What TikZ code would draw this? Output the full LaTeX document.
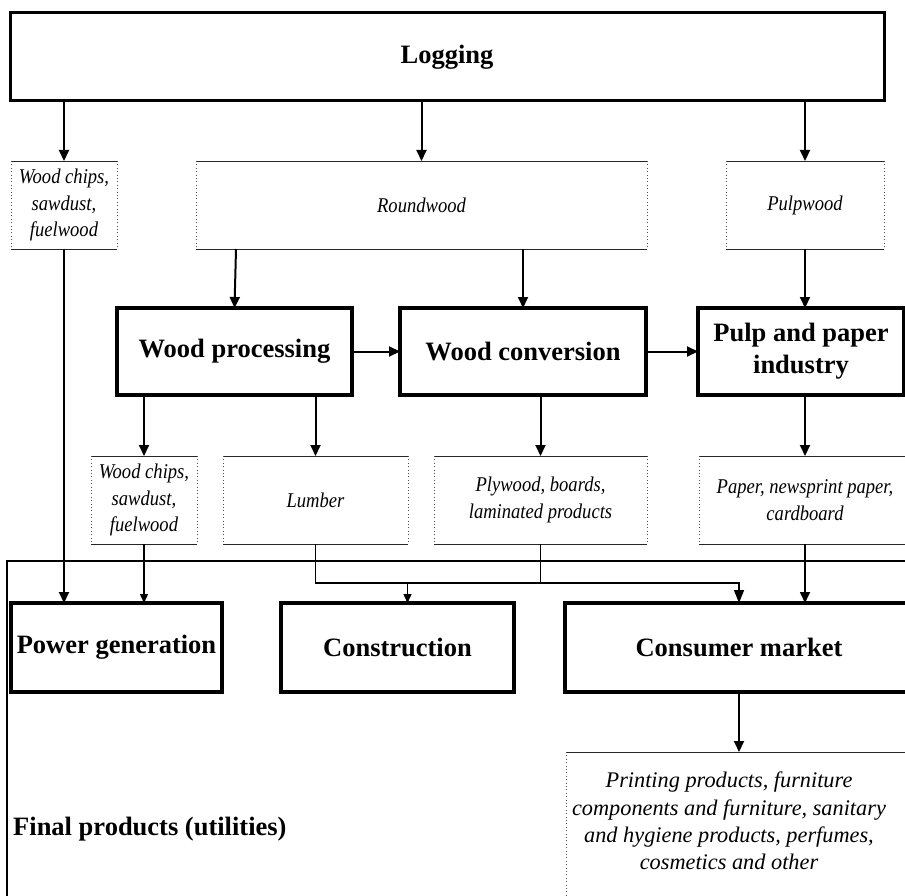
\documentclass[tikz,border=0pt]{standalone}
\usepackage{fontspec}
\setmainfont{Liberation Serif}
\newfontfamily\condit[FakeStretch=0.885]{Liberation Serif}
\usetikzlibrary{arrows.meta,calc}
\newcommand\dotbox[1]{%
  \draw[dline] (#1.north west) -- (#1.north east);
  \draw[dline] (#1.south west) -- (#1.south east);
  \draw[dside] (#1.north west) -- (#1.south west);
  \draw[dside] (#1.north east) -- (#1.south east);}
\begin{document}
\begin{tikzpicture}[x=1pt,y=-1pt,
  bigbox/.style={draw,line width=3.5pt,inner sep=0pt,outer sep=0pt,
    font=\fontsize{26.5}{32}\selectfont\bfseries,align=center},
  txtbox/.style={inner sep=0pt,outer sep=0pt,
    font=\condit\fontsize{21}{26.5}\selectfont\itshape,align=center},
  dline/.style={line width=0.9pt,black!85},
  dside/.style={line width=0.8pt,black!70,dash pattern=on 0.8pt off 2.6pt},
  arr/.style={line width=2pt,-{Triangle[width=10pt,length=11pt]}},
  tarr/.style={line width=1.4pt,-{Triangle[width=8pt,length=9pt]}},
  link/.style={line width=1.5pt},
]
\useasboundingbox (0,0) rectangle (905,896);
\fill[white] (0,0) rectangle (905,896);

% frame of final products
\draw[line width=1.5pt] (7,561) rectangle (930,920);
\node[anchor=west,inner sep=0pt,font=\fontsize{26.5}{32}\selectfont\bfseries] (fp) at (13,829) {Final products (utilities)};

% top
\node[bigbox,line width=3pt,minimum width=874pt,minimum height=88pt] (log) at (447,57) {Logging};

% first row of products
\node[txtbox,minimum width=106pt,minimum height=88pt] (ch1) at (64,205) {Wood chips,\\ sawdust,\\ fuelwood};
\node[txtbox,minimum width=451pt,minimum height=88pt] (rw) at (421.5,205) {Roundwood};
\node[txtbox,minimum width=158pt,minimum height=88pt] (pw) at (805,205) {Pulpwood};
\dotbox{ch1}\dotbox{rw}\dotbox{pw}

% processing
\node[bigbox,minimum width=235pt,minimum height=87pt] (wp) at (234.5,351.5) {Wood processing};
\node[bigbox,minimum width=246pt,minimum height=87pt] (wc) at (523,351.5) {Wood conversion};
\node[bigbox,minimum width=206pt,minimum height=87pt] (pp) at (801,351.5) {Pulp and paper\\ industry};

% second row of products
\node[txtbox,minimum width=106pt,minimum height=88pt] (ch2) at (144,500) {Wood chips,\\ sawdust,\\ fuelwood};
\node[txtbox,minimum width=185pt,minimum height=88pt] (lum) at (315.5,500) {Lumber};
\node[txtbox,minimum width=213pt,minimum height=88pt] (ply) at (540.5,500) {Plywood, boards,\\ laminated products};
\node[txtbox,minimum width=212pt,minimum height=88pt] (pap) at (805,500) {Paper, newsprint paper,\\ cardboard};
\dotbox{ch2}\dotbox{lum}\dotbox{ply}\dotbox{pap}

% final users
\node[bigbox,minimum width=211pt,minimum height=89pt] (pg) at (116.5,647.5) {Power generation};
\node[bigbox,minimum width=233pt,minimum height=89pt] (con) at (397.5,647.5) {Construction};
\node[bigbox,minimum width=348pt,minimum height=89pt] (cm) at (739,647.5) {Consumer market};

% final products text
\node[inner sep=0pt,outer sep=0pt,align=center,font=\fontsize{22.3}{27.3}\selectfont\itshape,minimum width=326pt,minimum height=138pt] (pr) at (729,821)
  {Printing products, furniture\\ components and furniture, sanitary\\ and hygiene products, perfumes,\\ cosmetics and other};
\draw[dline] (pr.north west) -- ++(360,0);
\draw[dside] (pr.north west) -- ++(0,160);

% connectors from logging
\draw[arr] (ch1.north |- log.south) -- (ch1.north);
\draw[arr] (rw.north |- log.south) -- (rw.north);
\draw[arr] (pw.north |- log.south) -- (pw.north);

% to processing
\draw[arr] ([xshift=40pt]rw.south west) -- (wp.north);
\draw[arr] (wc.north |- rw.south) -- (wc.north);
\draw[arr] (pw.south) -- (pw.south |- pp.north);
\draw[arr] (wp.east) -- (wc.west);
\draw[arr] (wc.east) -- (pp.west);

% to second row
\draw[arr] (ch2.north |- wp.south) -- (ch2.north);
\draw[arr] (lum.north |- wp.south) -- (lum.north);
\draw[arr] (ply.north |- wc.south) -- (ply.north);
\draw[arr] (pap.north |- pp.south) -- (pap.north);

% to final users
\coordinate (bus) at (0,583);
\draw[arr] (ch1.south) -- (ch1.south |- pg.north);
\draw[tarr] (ch2.south) -- (ch2.south |- pg.north);
\draw[link,-{Triangle[width=10pt,length=13pt]}] (lum.south) |- (bus -| cm.north) -- (cm.north);
\draw[link] (ply.south) -- (ply.south |- bus);
\draw[tarr] ([xshift=10pt]con.north |- bus) -- ([xshift=10pt]con.north);
\draw[arr,line width=1.7pt] (pap.south) -- (pap.south |- cm.north);
\draw[arr] (cm.south) -- (cm.south |- pr.north);
\end{tikzpicture}
\end{document}
